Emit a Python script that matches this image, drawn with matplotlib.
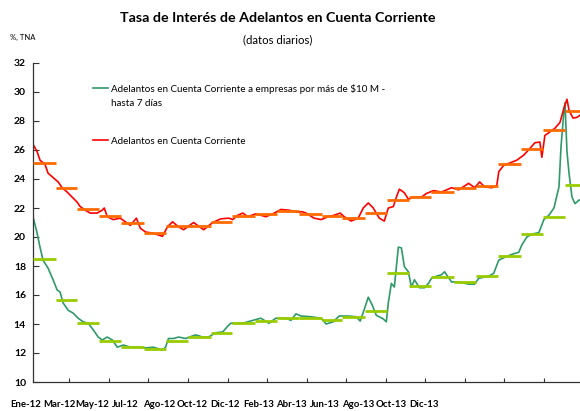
import numpy as np
import matplotlib
matplotlib.use('Agg')
import matplotlib.pyplot as plt
from matplotlib.legend_handler import HandlerLine2D

plt.rcParams['font.family'] = ['Lato', 'DejaVu Sans']

# dias desde el 1-ene-2012
dias_rojo = [0, 5.5, 9.6, 16.5, 20.7, 27.6, 34.5, 40.0, 46.9, 53.8, 60.7, 64.8, 71.7, 78.6,
             88.2, 95.1, 97.9, 102.0, 110.3, 119.9, 126.8, 133.7, 142.0, 147.5, 154.4, 165.4,
             177.8, 184.7, 191.6, 199.9, 206.8, 220.6, 234.4, 246.8, 257.8, 268.8, 274.3,
             281.2, 288.1, 295.0, 306.0, 319.8, 329.5, 340.5, 351.5, 364.0, 369.5, 375.0,
             386.0, 395.7, 405.3, 413.6, 421.9, 427.4, 437.0, 446.7, 453.6, 460.5, 467.3,
             475.6, 482.5, 488.0, 494.9, 499.1, 503.2, 510.1, 515.6, 522.5, 533.5, 540.4,
             550.1, 561.1, 574.9, 584.5, 598.3, 606.6, 613.5, 620.4, 630.0, 636.9, 639.7,
             646.6, 654.8, 664.5, 674.1, 682.4, 689.3, 696.2, 698.9, 703.1, 710.0, 716.9,
             723.8, 729.3, 733.4, 736.2, 741.7, 747.2, 751.3]
tasa_total = [26.4, 25.9, 25.3, 25.0, 24.4, 24.1, 23.8, 23.4, 23.1, 22.75, 22.4, 22.1, 21.85, 21.65,
              21.65, 21.85, 22.0, 21.4, 21.2, 21.3, 21.05, 20.8, 21.3, 20.6, 20.35, 20.25,
              20.05, 20.7, 21.05, 20.7, 20.5, 21.0, 20.5, 21.0, 21.25, 21.3, 21.2,
              21.5, 21.65, 21.4, 21.6, 21.4, 21.6, 21.9, 21.85, 21.7, 21.75, 21.65,
              21.3, 21.2, 21.4, 21.5, 21.65, 21.4, 21.1, 21.3, 22.0, 22.35, 22.0,
              21.3, 21.1, 22.0, 22.1, 22.75, 23.3, 23.05, 22.6, 22.75, 22.75, 23.0,
              23.2, 23.1, 23.4, 23.25, 23.7, 23.4, 23.8, 23.45, 23.4, 23.5, 24.5,
              24.95, 25.1, 25.3, 25.65, 26.1, 26.5, 26.55, 25.5, 27.0, 27.25, 27.5,
              27.9, 28.9, 29.5, 28.75, 28.2, 28.25, 28.4]

dias_verde = [0, 5.5, 9.6, 13.8, 20.7, 27.6, 33.1, 37.2, 41.4, 48.3, 55.1, 62.0, 68.9, 75.8,
              82.7, 89.6, 95.1, 102.0, 108.9, 115.8, 124.1, 133.7, 143.4, 154.4, 165.4, 177.8,
              182.0, 186.1, 193.0, 199.9, 209.5, 223.3, 233.0, 241.3, 250.9, 260.6, 267.5,
              271.6, 288.1, 301.9, 312.9, 324.0, 333.6, 347.4, 354.3, 361.2, 368.1, 381.9,
              395.7, 402.6, 412.2, 420.5, 432.9, 443.9, 449.4, 453.6, 460.5, 466.0, 471.5,
              481.1, 485.3, 488.0, 492.2, 496.3, 501.8, 506.0, 510.1, 515.6, 519.7, 523.9,
              530.8, 537.7, 543.2, 547.3, 551.4, 561.1, 565.2, 574.9, 584.5, 598.3, 606.6,
              612.1, 625.9, 632.8, 639.7, 647.9, 657.6, 667.2, 671.4, 678.3, 685.2, 694.8,
              701.7, 708.6, 715.5, 722.4, 725.2, 729.3, 730.7, 733.4, 736.2, 740.3, 744.4,
              750.0, 751.3]
tasa_empresas = [21.4, 20.3, 19.3, 18.4, 17.85, 17.05, 16.35, 16.2, 15.45, 14.95, 14.75, 14.4, 14.15, 14.05,
                 13.6, 13.1, 12.9, 13.1, 12.9, 12.4, 12.55, 12.4, 12.4, 12.35, 12.4, 12.2,
                 12.4, 13.0, 13.0, 13.1, 13.0, 13.25, 13.1, 13.1, 13.4, 13.45, 13.85,
                 14.05, 14.05, 14.25, 14.4, 14.05, 14.4, 14.4, 14.25, 14.7, 14.55, 14.5,
                 14.4, 14.0, 14.15, 14.55, 14.55, 14.5, 14.2, 14.8, 15.85, 15.3, 14.6,
                 14.35, 14.15, 15.45, 16.8, 16.55, 19.3, 19.25, 17.95, 17.6, 16.55, 17.05,
                 16.5, 16.5, 16.8, 17.15, 17.25, 17.4, 17.6, 16.9, 16.9, 16.75, 16.75,
                 17.15, 17.3, 17.5, 18.4, 18.6, 18.8, 18.95, 19.45, 20.0, 20.2, 20.3,
                 21.2, 21.5, 22.0, 23.45, 26.2, 28.75, 29.25, 25.9, 24.4, 22.75, 22.3,
                 22.55, 22.55]

# promedios mensuales (ene-12 a ene-14)
inicio_mes = [0, 31, 60, 91, 121, 152, 182, 213, 244, 274, 305, 335, 366, 397, 425, 456,
              486, 517, 547, 578, 609, 639, 670, 700, 731, 751.3]
prom_total = [25.1, 23.4, 21.95, 21.45, 20.95, 20.3, 20.75, 20.75, 21.0, 21.45, 21.6, 21.8,
              21.6, 21.45, 21.3, 21.65, 22.55, 22.75, 23.1, 23.4, 23.5, 25.0, 26.1, 27.4, 28.7]
prom_empresas = [18.5, 15.65, 14.05, 12.8, 12.4, 12.3, 12.85, 13.1, 13.4, 14.05, 14.2, 14.4,
                 14.4, 14.3, 14.5, 14.9, 17.5, 16.6, 17.25, 16.9, 17.3, 18.7, 20.2, 21.4, 23.6]

etiquetas = ['Ene-12', 'Mar-12', 'May-12', 'Jul-12', 'Ago-12', 'Oct-12', 'Dic-12',
             'Feb-13', 'Abr-13', 'Jun-13', 'Ago-13', 'Oct-13', 'Dic-13']


# la linea de la leyenda a la altura del primer renglon
class HandlerArriba(HandlerLine2D):
    def create_artists(self, legend, orig_handle, xdescent, ydescent, width, height, fontsize, trans):
        arts = super().create_artists(legend, orig_handle, xdescent, ydescent, width, height, fontsize, trans)
        for a in arts:
            a.set_ydata(np.asarray(a.get_ydata()) + 0.85*fontsize)
        return arts


fig = plt.figure(figsize=(5.8, 4.11), dpi=100)
ax = fig.add_axes([33/580, 1-382/411, 547/580, 319/411])

linea_verde, = ax.plot(dias_verde, tasa_empresas, color='#2f9a68', lw=1.2,
                       label='Adelantos en Cuenta Corriente a empresas por más de $10 M -\nhasta 7 días')
ax.plot(dias_rojo, tasa_total, color='#ff0000', lw=1.2, label='Adelantos en Cuenta Corriente')

ax.hlines(prom_total, inicio_mes[:-1], inicio_mes[1:], color='#ff6a00', lw=2, zorder=3)
ax.hlines(prom_empresas, inicio_mes[:-1], inicio_mes[1:], color='#99cc00', lw=2, zorder=3)

ax.set_xlim(0, 751.3)
ax.set_ylim(10, 32)
ax.set_yticks(range(10, 33, 2))
for lab in ax.get_yticklabels():
    lab.set_fontweight('bold')
ax.set_xticks(np.arange(50, 752, 54.3))
ax.set_xticklabels([])
ax.tick_params(axis='y', direction='in', length=4, labelsize=7.5, pad=5, color='#333333')
ax.tick_params(axis='x', direction='in', length=3, color='#333333')
for s in ['top', 'right']:
    ax.spines[s].set_visible(False)
for s in ['left', 'bottom']:
    ax.spines[s].set_color('#333333')
    ax.spines[s].set_linewidth(0.9)

for i, lab in enumerate(etiquetas):
    ax.text(-9.7 + 45.6*i, -0.072, lab, transform=ax.get_xaxis_transform(),
            ha='center', va='center', fontsize=6.9, fontweight='bold', clip_on=False)

leg = ax.legend(loc='upper left', bbox_to_anchor=(88/580, 1-79/411), bbox_transform=fig.transFigure,
                frameon=False, fontsize=7.1, handlelength=1.5, handletextpad=0.3,
                labelspacing=2.9, borderpad=0, handler_map={linea_verde: HandlerArriba()})
for t in leg.get_texts():
    t.set_linespacing(1.75)

fig.text(278/580, 1-18/411, 'Tasa de Interés de Adelantos en Cuenta Corriente',
         ha='center', va='center', fontsize=10.3, fontweight='bold')
fig.text(278/580, 1-40/411, '(datos diarios)', ha='center', va='center', fontsize=8.2)
fig.text(10/580, 1-37/411, '%, TNA', ha='left', va='center', fontsize=5.5)

fig.savefig('out.png', dpi=100)
